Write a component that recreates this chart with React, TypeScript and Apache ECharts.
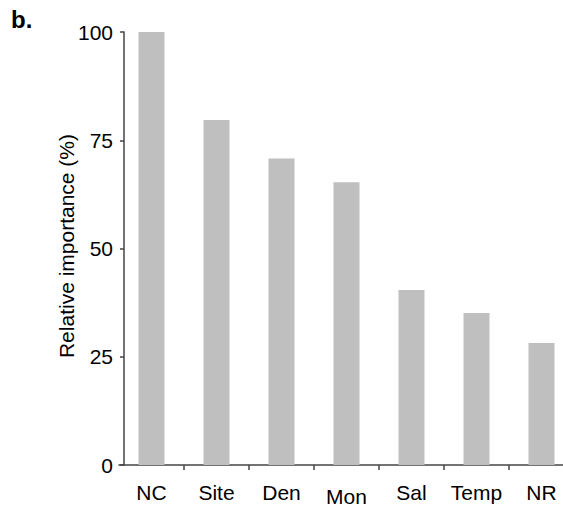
import React, { useEffect, useRef } from "react";
import * as echarts from "echarts";

const categories = ["NC", "Site", "Den", "Mon", "Sal", "Temp", "NR"];
const importance = [100, 79.7, 70.8, 65.3, 40.4, 35.1, 28.2];
const yTicks = { min: 0, max: 100, interval: 25 };
const yTitle = "Relative importance (%)";
const panelLabel = "b.";

export default function App() {
  const ref = useRef<HTMLDivElement>(null);
  useEffect(() => {
    document.body.style.margin = "0";
    const chart = echarts.init(ref.current!, null, { renderer: "svg" });
    const font = "Liberation Sans, Arial, sans-serif";
    chart.setOption({
      animation: false,
      backgroundColor: "#ffffff",
      textStyle: { fontFamily: font },
      grid: {
        left: 119,
        top: 32,
        width: 455,
        height: 433,
        containLabel: false,
        outerBoundsMode: "none",
      },
      graphic: [
        {
          type: "text",
          left: 11,
          top: 7,
          style: { text: panelLabel, font: `bold 24px ${font}`, fill: "#000" },
        },
        {
          type: "text",
          x: 66,
          y: 246,
          rotation: Math.PI / 2,
          style: {
            text: yTitle,
            font: `21px ${font}`,
            fill: "#000",
            textAlign: "center",
            textVerticalAlign: "middle",
          },
        },
      ],
      xAxis: {
        type: "category",
        data: categories,
        axisLine: { show: true, lineStyle: { color: "#444", width: 1.5 } },
        axisTick: {
          show: true,
          length: 5,
          interval: (i: number) => i > 0,
          lineStyle: { color: "#444", width: 1.5 },
        },
        axisLabel: {
          interval: 0,
          margin: 17,
          fontSize: 21,
          color: "#000",
          fontFamily: font,
          formatter: (v: string) => (v === "Mon" ? `{low|${v}}` : v),
          rich: { low: { fontSize: 21, lineHeight: 28, color: "#000", fontFamily: font } },
        },
      },
      yAxis: {
        type: "value",
        min: yTicks.min,
        max: yTicks.max,
        interval: yTicks.interval,
        offset: -5,
        axisLine: { show: true, lineStyle: { color: "#444", width: 1.5 } },
        axisTick: { show: true, length: 4, lineStyle: { color: "#444", width: 1.5 } },
        axisLabel: { margin: 11, fontSize: 21, color: "#000", fontFamily: font },
        splitLine: { show: false },
      },
      series: [
        {
          type: "bar",
          data: importance,
          barWidth: 26,
          itemStyle: { color: "#bfbfbf" },
        },
      ],
    });
    return () => chart.dispose();
  }, []);
  return (
    <div
      ref={ref}
      style={{ position: "absolute", left: 0, top: 0, width: 563, height: 506 }}
    />
  );
}
